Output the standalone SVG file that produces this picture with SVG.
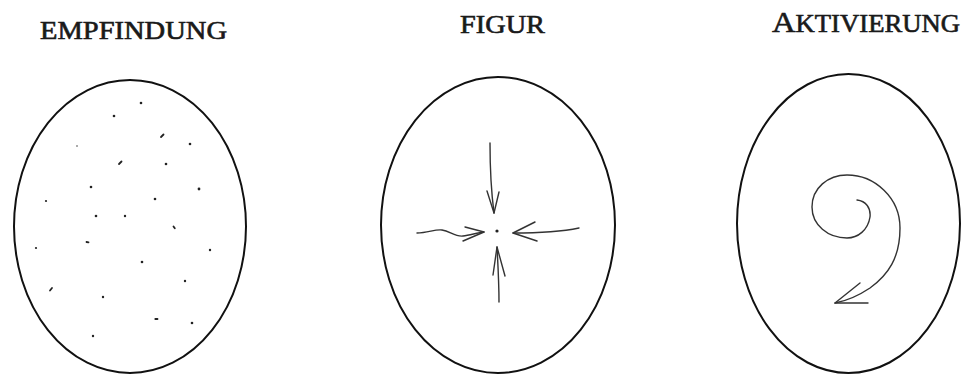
<svg xmlns="http://www.w3.org/2000/svg" width="961" height="376" viewBox="0 0 961 376">
<style>
.title{font-family:"Liberation Serif","DejaVu Serif",serif;font-weight:normal;font-size:24.5px;fill:#1a1a1a;stroke:#1a1a1a;stroke-width:0.6}
.egg{fill:none;stroke:#111;stroke-width:2}
.dot{fill:#222}
.dash{stroke:#222;stroke-width:1.8;stroke-linecap:round}
.pen{fill:none;stroke:#333;stroke-width:1.4;stroke-linecap:round;stroke-linejoin:round}
</style>
<rect width="961" height="376" fill="#fff"/>
<g id="empfindung">
<text class="title" x="40" y="39" textLength="187" lengthAdjust="spacingAndGlyphs">EMPFINDUNG</text>
<ellipse class="egg" cx="130" cy="226.5" rx="116" ry="146.5"/>
<g>
<circle class="dot" cx="141" cy="103" r="1.3"/>
<circle class="dot" cx="114" cy="116" r="1.3"/>
<line class="dash" x1="161" y1="137" x2="163.5" y2="134.5"/>
<circle class="dot" cx="77" cy="146" r="1" opacity="0.5"/>
<circle class="dot" cx="190" cy="144" r="1.3"/>
<line class="dash" x1="119" y1="164" x2="121.5" y2="161.5"/>
<circle class="dot" cx="166" cy="164" r="1.3"/>
<circle class="dot" cx="91" cy="187" r="1.3"/>
<circle class="dot" cx="199" cy="189" r="1.4"/>
<circle class="dot" cx="46" cy="201" r="1.1"/>
<circle class="dot" cx="155" cy="199" r="1.3"/>
<circle class="dot" cx="96" cy="216" r="1.3"/>
<circle class="dot" cx="125" cy="216" r="1.2"/>
<line class="dash" x1="173.5" y1="226.5" x2="174.8" y2="228.3"/>
<line class="dash" x1="86.5" y1="242" x2="88.5" y2="242.4"/>
<circle class="dot" cx="36" cy="248" r="1.1"/>
<circle class="dot" cx="210" cy="250" r="1.2"/>
<circle class="dot" cx="142" cy="262" r="1.3"/>
<circle class="dot" cx="185" cy="281" r="1.2"/>
<line class="dash" x1="50" y1="290.5" x2="52" y2="288"/>
<circle class="dot" cx="103" cy="297" r="1.2"/>
<line class="dash" x1="155.3" y1="319" x2="157.5" y2="319"/>
<circle class="dot" cx="192" cy="323" r="1.3"/>
<circle class="dot" cx="93" cy="336" r="1.2"/>
</g>
</g>
<g id="figur">
<text class="title" x="460" y="33" textLength="85" lengthAdjust="spacingAndGlyphs">FIGUR</text>
<ellipse class="egg" cx="498" cy="225" rx="117" ry="148"/>
<circle class="dot" cx="497" cy="231" r="1.6"/>
</g>
<g id="aktivierung">
<text class="title" x="772" y="32" textLength="188" lengthAdjust="spacingAndGlyphs"><tspan font-size="30">A</tspan>KTIVIERUNG</text>
<ellipse class="egg" cx="848.5" cy="223.5" rx="111.5" ry="149.5"/>
</g>
<g id="connectors">
<path class="pen" d="M490,143 C490,165 491,190 494,213"/>
<path class="pen" d="M487,191 L494,213 L499,192"/>
<path class="pen" d="M417,233 C428,233 435,229 442,230 C450,231 455,237 463,236 C470,235 477,233 484,232"/>
<path class="pen" d="M465,227 L484,232 L463,241"/>
<path class="pen" d="M579,228 C560,232 535,233 513,233"/>
<path class="pen" d="M535,222 L513,233 L537,241"/>
<path class="pen" d="M499,302 C499,285 498,265 497,247"/>
<path class="pen" d="M493,275 L497,247 L505,276"/>
<path class="pen" d="M857,200 C866,201 871,208 870,217 C868,230 858,238 847,238 C828,238 812,225 812,207 C812,188 828,175 847,175 C875,175 900,198 900,228 C900,258 888,275 870,288 C858,296 846,301 835,303"/>
<path class="pen" d="M860,283 L835,303 L868,303"/>
</g>
</svg>
